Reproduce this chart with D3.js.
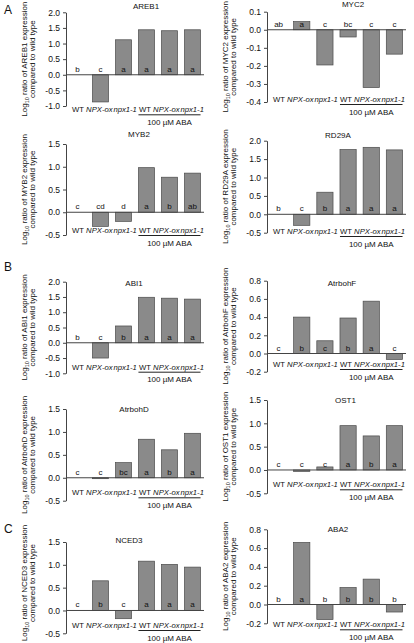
<!DOCTYPE html>
<html><head><meta charset="utf-8">
<script src="https://cdn.jsdelivr.net/npm/d3@7"></script>
<style>
body{margin:0;background:#fff}
svg{display:block}
text{font-family:"Liberation Sans",Arial,sans-serif;fill:#111}
</style>
</head><body>
<svg id="c" width="414" height="643"></svg>
<script>
// ---- data ----
const categories = ["WT", "NPX-ox", "npx1-1", "WT", "NPX-ox", "npx1-1"];
const italicCats = [false, true, true, false, true, true];
const treatmentLabel = "100 µM ABA";

const genes = ["AREB1", "MYC2", "MYB2", "RD29A", "ABI1", "AtrbohF", "AtrbohD", "OST1", "NCED3", "ABA2"];

const areb1 = [0, -0.87, 1.12, 1.44, 1.41, 1.44];
const myc2 = [0, 0.045, -0.195, -0.04, -0.32, -0.135];
const myb2 = [0, -0.31, -0.2, 0.98, 0.77, 0.86];
const rd29a = [0, -0.3, 0.6, 1.76, 1.82, 1.75];
const abi1 = [0, -0.5, 0.55, 1.49, 1.46, 1.43];
const atrbohF = [0, 0.40, 0.14, 0.39, 0.575, -0.065];
const atrbohD = [0, -0.02, 0.33, 0.84, 0.61, 0.97];
const ost1 = [0, -0.03, 0.065, 0.95, 0.73, 0.95];
const nced3 = [0, 0.65, -0.18, 1.08, 1.01, 0.95];
const aba2 = [0, 0.66, -0.16, 0.18, 0.27, -0.08];

const areb1Letters = ["b", "c", "a", "a", "a", "a"];
const myc2Letters = ["ab", "a", "c", "bc", "c", "c"];
const myb2Letters = ["c", "cd", "d", "a", "b", "ab"];
const rd29aLetters = ["b", "c", "b", "a", "a", "a"];
const abi1Letters = ["b", "c", "b", "a", "a", "a"];
const atrbohFLetters = ["c", "b", "c", "b", "a", "c"];
const atrbohDLetters = ["c", "c", "bc", "a", "b", "a"];
const ost1Letters = ["c", "c", "c", "a", "b", "a"];
const nced3Letters = ["c", "b", "c", "a", "a", "a"];
const aba2Letters = ["b", "a", "b", "b", "b", "b"];

// y tick labels per panel
const areb1Ticks = [-1.0, -0.5, 0.0, 0.5, 1.0, 1.5, 2.0];
const myc2Ticks = [-0.4, -0.3, -0.2, -0.1, 0.0, 0.1];
const myb2Ticks = [-0.5, 0.0, 0.5, 1.0, 1.5];
const rd29aTicks = [-0.5, 0.0, 0.5, 1.0, 1.5, 2.0];
const abi1Ticks = [-1.0, -0.5, 0.0, 0.5, 1.0, 1.5, 2.0];
const atrbohFTicks = [-0.2, 0.0, 0.2, 0.4, 0.6, 0.8];
const atrbohDTicks = [-0.5, 0.0, 0.5, 1.0, 1.5];
const ost1Ticks = [-0.5, 0.0, 0.5, 1.0, 1.5];
const nced3Ticks = [-0.5, 0.0, 0.5, 1.0, 1.5];
const aba2Ticks = [-0.2, 0.0, 0.2, 0.4, 0.6, 0.8];

const panelLetters = ["A", "B", "C"];

// ---- layout (positions only) ----
const layout = [
  {col: 0, top: 12.3, bottom: 106, labelY: 109.3, tx: 146, ty: 6},
  {col: 1, top: 11.7, bottom: 102, labelY: 99, tx: 353, ty: 4},
  {col: 0, top: 144, bottom: 235, labelY: 230, tx: 139, ty: 134},
  {col: 1, top: 140.7, bottom: 232.7, labelY: 231, tx: 338, ty: 135},
  {col: 0, top: 281.7, bottom: 373.3, labelY: 366.7, tx: 134, ty: 283},
  {col: 1, top: 280.7, bottom: 371.7, labelY: 364, tx: 342, ty: 283},
  {col: 0, top: 409, bottom: 500.7, labelY: 492.3, tx: 134, ty: 409},
  {col: 1, top: 400, bottom: 493.3, labelY: 484.3, tx: 345.5, ty: 400},
  {col: 0, top: 542, bottom: 633.3, labelY: 625, tx: 129, ty: 540},
  {col: 1, top: 529.3, bottom: 623.3, labelY: 624.3, tx: 338, ty: 529}
];
const colX = [[66, 204], [267, 406]];
const letterPos = [[4, 9], [4, 266], [4, 528]];

const valueSets = [areb1, myc2, myb2, rd29a, abi1, atrbohF, atrbohD, ost1, nced3, aba2];
const letterSets = [areb1Letters, myc2Letters, myb2Letters, rd29aLetters, abi1Letters, atrbohFLetters, atrbohDLetters, ost1Letters, nced3Letters, aba2Letters];
const tickSets = [areb1Ticks, myc2Ticks, myb2Ticks, rd29aTicks, abi1Ticks, atrbohFTicks, atrbohDTicks, ost1Ticks, nced3Ticks, aba2Ticks];

const svg = d3.select("#c");
const axisColor = "#444";

genes.forEach((gene, k) => {
  const L = layout[k];
  const vals = valueSets[k];
  const lets = letterSets[k];
  const ticks = tickSets[k];
  const [x0, x1] = colX[L.col];
  const y = d3.scaleLinear().domain(d3.extent(ticks)).range([L.bottom, L.top]);
  const x = d3.scaleBand().domain(d3.range(categories.length)).range([x0, x1])
    .paddingInner(0.3).paddingOuter(0.15);
  const g = svg.append("g");

  // bars
  g.selectAll("rect.bar").data(vals).join("rect")
    .attr("x", (d, i) => x(i))
    .attr("width", x.bandwidth())
    .attr("y", d => y(Math.max(0, d)))
    .attr("height", d => Math.abs(y(d) - y(0)))
    .attr("fill", "#8a8a8a")
    .attr("stroke", "#4a4a4a")
    .attr("stroke-width", 0.7);

  // zero line
  g.append("line").attr("x1", x0).attr("x2", x1)
    .attr("y1", y(0)).attr("y2", y(0))
    .attr("stroke", axisColor).attr("stroke-width", 1);

  // y axis
  const ax = g.append("g").attr("transform", `translate(${x0},0)`)
    .call(d3.axisLeft(y).tickValues(ticks).tickSize(3).tickSizeOuter(0)
      .tickFormat(d => d.toFixed(1)));
  ax.select(".domain").attr("stroke", axisColor);
  ax.selectAll(".tick line").attr("stroke", axisColor);
  ax.selectAll(".tick text").attr("font-size", 8.5).attr("fill", "#222")
    .attr("font-family", "Liberation Sans, Arial, sans-serif").attr("x", -6);

  // significance letters
  g.selectAll("text.sig").data(lets).join("text")
    .attr("x", (d, i) => x(i) + x.bandwidth() / 2)
    .attr("y", y(0) - 3)
    .attr("text-anchor", "middle").attr("font-size", 8)
    .text(d => d);

  // title
  g.append("text").attr("x", L.tx).attr("y", L.ty + 3)
    .attr("text-anchor", "middle").attr("font-size", 8).text(gene);

  // category labels as one flowing line
  const cl = g.append("text").attr("x", x0 + 6).attr("y", L.labelY + 3)
    .attr("font-size", 7.7);
  categories.forEach((c, i) => {
    const tight = (i === 0 || i === 2 || i === 5);
    cl.append("tspan")
      .attr("font-style", italicCats[i] ? "italic" : "normal")
      .attr("dx", (i === 2 || i === 5) ? 0.8 : 0)
      .text((tight ? "" : " ") + c);
  });

  // treatment bracket
  const bx0 = x(3), bx1 = x(5) + x.bandwidth();
  g.append("line").attr("x1", bx0).attr("x2", bx1)
    .attr("y1", L.labelY + 5.5).attr("y2", L.labelY + 5.5)
    .attr("stroke", "#222").attr("stroke-width", 1);
  g.append("text").attr("x", (bx0 + bx1) / 2).attr("y", L.labelY + 15.5)
    .attr("text-anchor", "middle").attr("font-size", 8).text(treatmentLabel);

  // y label (kept inside the page)
  const cy = Math.min((L.top + L.bottom) / 2, 643 - 60);
  const yl = g.append("text").attr("transform", `translate(${x0 - 39},${cy}) rotate(-90)`)
    .attr("text-anchor", "middle").attr("font-size", 8);
  yl.append("tspan").text("Log");
  yl.append("tspan").attr("font-size", 5.5).attr("dy", 2).text("10");
  yl.append("tspan").attr("dy", -2).text(` ratio of ${gene} expression`);
  g.append("text").attr("transform", `translate(${x0 - 31},${cy}) rotate(-90)`)
    .attr("text-anchor", "middle").attr("font-size", 8).text("compared to wild type");
});

// panel letters
svg.selectAll("text.pl").data(panelLetters).join("text")
  .attr("x", (d, i) => letterPos[i][0])
  .attr("y", (d, i) => letterPos[i][1] + 5)
  .attr("font-size", 12).text(d => d);
</script>
</body></html>
